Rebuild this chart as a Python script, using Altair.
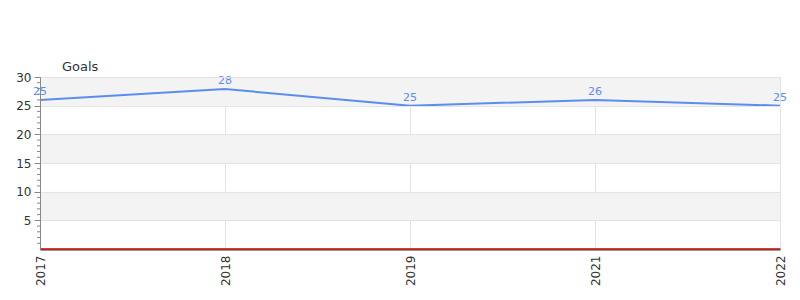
import altair as alt
import pandas as pd

years = ["2017", "2018", "2019", "2021", "2022"]
goals = [26.0, 27.9, 25.0, 26.0, 25.0]
point_labels = ["25", "28", "25", "26", "25"]

band_lo = [5, 15, 25]
band_hi = [10, 20, 30]
y_ticks = [5, 10, 15, 20, 25, 30]
minor_ticks = [1, 2, 3, 4, 6, 7, 8, 9, 11, 12, 13, 14, 16, 17, 18, 19,
               21, 22, 23, 24, 26, 27, 28, 29]

df = pd.DataFrame({"year": years, "goals": goals, "label": point_labels})
bands = pd.DataFrame({"lo": band_lo, "hi": band_hi})
minor = pd.DataFrame({"v": minor_ticks})
zero = pd.DataFrame({"z": [0]})

FONT = "DejaVu Sans"
BLUE = "#5b8def"

yscale = alt.Scale(domain=[0, 30], nice=False, zero=True)
xscale = alt.Scale(type="point", padding=0)

y_axis = alt.Axis(values=y_ticks, tickSize=6, tickColor="#888",
                  domainColor="#888", labelColor="#333",
                  labelFontSize=12, labelFont=FONT, grid=True,
                  gridColor="#e3e3e3", labelPadding=3,
                  labelOverlap=False, zindex=1, title=None)
x_axis = alt.Axis(labelAngle=270, labelFontSize=12, labelColor="#333",
                  labelFont=FONT, domainColor="#333", domainWidth=2,
                  ticks=False, labelPadding=6, grid=True,
                  gridColor="#e3e3e3", labelOverlap=False, title=None)


def Y(field):
    return alt.Y(field, scale=yscale, axis=y_axis, title=None)


def X():
    return alt.X("year:O", scale=xscale, sort=years, axis=x_axis, title=None)


band_layer = alt.Chart(bands).mark_rect(color="#f3f3f3").encode(
    y=Y("lo:Q"),
    y2="hi:Q",
    x=alt.value(1),
    x2=alt.value(740),
)

grid_layer = alt.Chart(df).mark_point(opacity=0).encode(x=X(), y=Y("goals:Q"))

minor_layer = alt.Chart(minor).mark_rule(color="#888", strokeWidth=1).encode(
    y=Y("v:Q"),
    x=alt.value(-3),
    x2=alt.value(0),
)

zero_layer = alt.Chart(zero).mark_rule(color="#e0201b", strokeWidth=1.5).encode(
    y=Y("z:Q"),
    x=alt.value(0),
    x2=alt.value(740),
)

line_layer = alt.Chart(df).mark_line(color=BLUE, strokeWidth=2,
                                     interpolate="linear").encode(
    x=X(),
    y=Y("goals:Q"),
)

text_layer = alt.Chart(df).mark_text(color=BLUE, fontSize=11, font=FONT,
                                     dy=-3, baseline="bottom").encode(
    x=X(),
    y=Y("goals:Q"),
    text="label:N",
)

chart = alt.layer(
    band_layer, grid_layer, minor_layer, zero_layer, line_layer, text_layer
).properties(
    width=740,
    height=172,
    title=alt.TitleParams("Goals", anchor="start", frame="group", dx=22,
                          offset=-3, fontSize=13, fontWeight="normal",
                          color="#333", font=FONT),
    autosize=alt.AutoSizeParams(type="none"),
    padding={"left": 40, "top": 77, "right": 20, "bottom": 51},
).configure_view(strokeWidth=0).configure_axisY(labelOverlap=False).configure(
    background="white")

chart.save("out.html", embed_options={"renderer": "svg", "actions": False})
